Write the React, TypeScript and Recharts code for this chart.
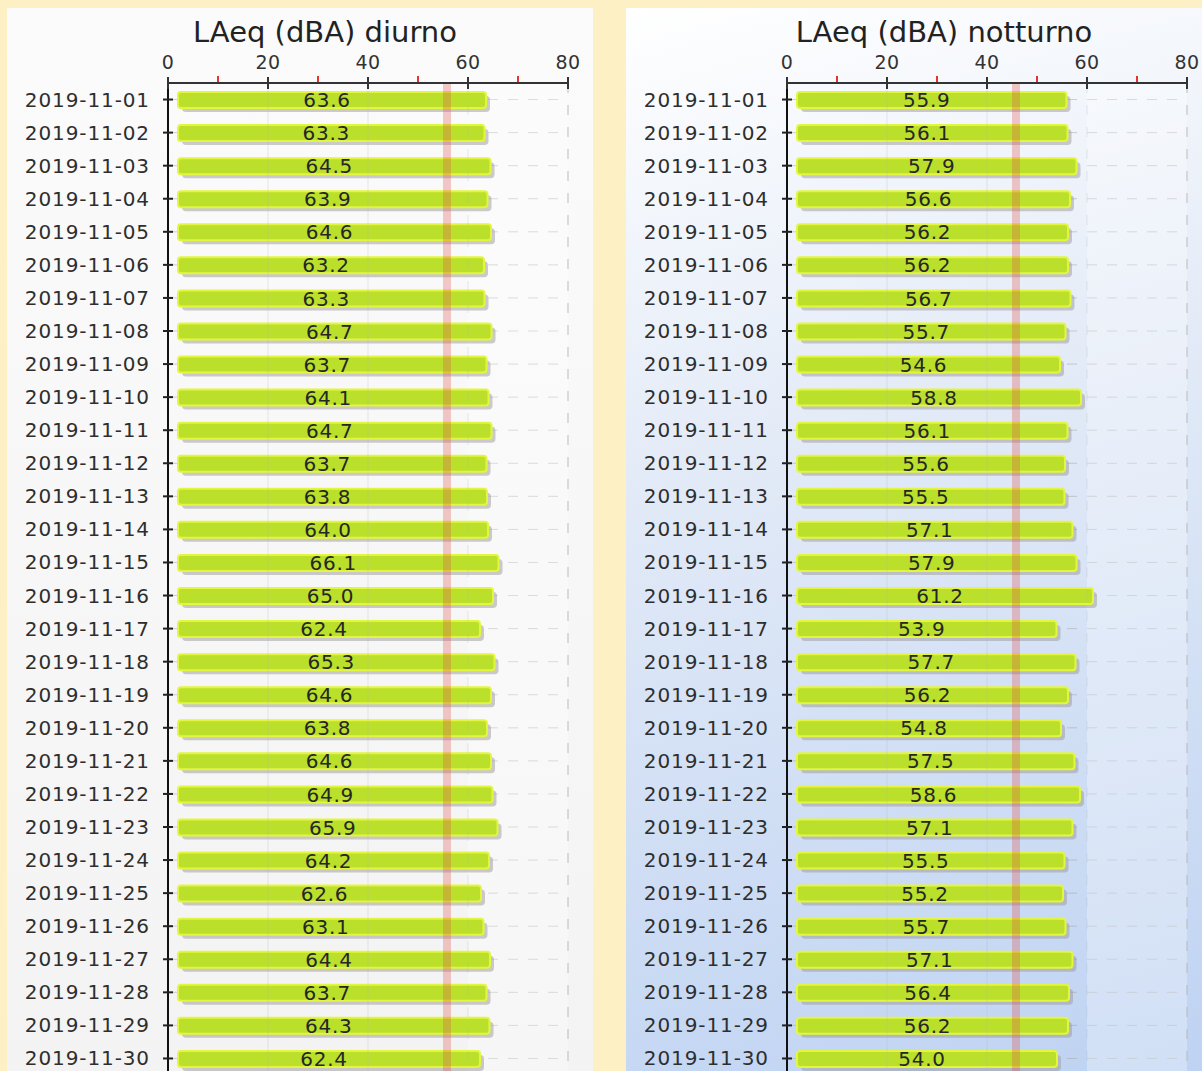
import { BarChart, Bar, XAxis, YAxis, CartesianGrid, ReferenceLine, ReferenceArea, LabelList } from 'recharts';

// ─── Data ─────────────────────────────────────────────────────────────────────

const dates = [
  '2019-11-01', '2019-11-02', '2019-11-03', '2019-11-04', '2019-11-05', '2019-11-06',
  '2019-11-07', '2019-11-08', '2019-11-09', '2019-11-10', '2019-11-11', '2019-11-12',
  '2019-11-13', '2019-11-14', '2019-11-15', '2019-11-16', '2019-11-17', '2019-11-18',
  '2019-11-19', '2019-11-20', '2019-11-21', '2019-11-22', '2019-11-23', '2019-11-24',
  '2019-11-25', '2019-11-26', '2019-11-27', '2019-11-28', '2019-11-29', '2019-11-30',
];

const diurno = [
  63.6, 63.3, 64.5, 63.9, 64.6, 63.2, 63.3, 64.7, 63.7, 64.1, 64.7, 63.7, 63.8, 64.0, 66.1,
  65.0, 62.4, 65.3, 64.6, 63.8, 64.6, 64.9, 65.9, 64.2, 62.6, 63.1, 64.4, 63.7, 64.3, 62.4,
];

const notturno = [
  55.9, 56.1, 57.9, 56.6, 56.2, 56.2, 56.7, 55.7, 54.6, 58.8, 56.1, 55.6, 55.5, 57.1, 57.9,
  61.2, 53.9, 57.7, 56.2, 54.8, 57.5, 58.6, 57.1, 55.5, 55.2, 55.7, 57.1, 56.4, 56.2, 54.0,
];

const xTicks = [0, 10, 20, 30, 40, 50, 60, 70, 80];
const majorTicks = [20, 40, 60, 80];
const limitDiurno = 55;
const limitNotturno = 45;

// ─── Styling ──────────────────────────────────────────────────────────────────

const FONT = '"DejaVu Sans", Verdana, sans-serif';
const PANEL_W = 586;
const CHART_H = 1067;

function XTick({ x, y, payload }: any) {
  const v = payload.value as number;
  if (v % 20 !== 0) {
    return <line x1={x} y1={y - 7} x2={x} y2={y - 1} stroke="#e8322c" strokeWidth={2} />;
  }
  return (
    <g>
      <line x1={x} y1={y - 6} x2={x} y2={y + 6} stroke="#333" strokeWidth={2} />
      <text x={x} y={y - 14} textAnchor="middle" fontSize={19} fontFamily={FONT} fill="#333" letterSpacing={0.5}>
        {v}
      </text>
    </g>
  );
}

function YTick({ x, y, payload }: any) {
  return (
    <g>
      <line x1={x - 5} y1={y} x2={x + 5} y2={y} stroke="#222" strokeWidth={2} />
      <text x={x - 18} y={y + 7} textAnchor="end" fontSize={20} fontFamily={FONT} fill="#2e2e2e" letterSpacing={0.9}>
        {payload.value}
      </text>
    </g>
  );
}

function BarShape({ x, y, width, height }: any) {
  if (!width || width < 12) return null;
  return (
    <g>
      <rect x={x + 14} y={y + 4} width={width - 10} height={height} rx={4} fill="#9a9a9a" opacity={0.5} />
      <rect x={x + 10} y={y} width={width - 10} height={height} rx={3} fill="#bbe02b" stroke="#e3f53e" strokeWidth={2} />
    </g>
  );
}

function LimitShape({ x1, y1, y2 }: any) {
  return (
    <rect x={x1} y={Math.min(y1, y2)} width={8} height={Math.abs(y2 - y1)} fill="#e0504a" opacity={0.3} />
  );
}

// ─── Panel ────────────────────────────────────────────────────────────────────

interface PanelProps {
  title: string;
  values: number[];
  limit: number;
  background: string;
}

function Panel({ title, values, limit, background }: PanelProps) {
  const data = dates.map((d, i) => ({ date: d, value: values[i] }));
  return (
    <div style={{ position: 'relative', width: PANEL_W, height: CHART_H + 10, background, flexShrink: 0 }}>
      <div
        style={{
          position: 'absolute',
          left: 0,
          width: 636,
          top: 5,
          textAlign: 'center',
          fontFamily: FONT,
          fontSize: 29,
          color: '#222',
          lineHeight: '38px',
        }}
      >
        {title}
      </div>
      <div style={{ position: 'absolute', left: 0, top: 0 }}>
        <BarChart
          width={PANEL_W}
          height={CHART_H}
          data={data}
          layout="vertical"
          margin={{ top: 0, right: 25, left: 0, bottom: 0 }}
          barSize={16}
        >
          <ReferenceArea x1={60} x2={80} fill="#ffffff" fillOpacity={0.3} stroke="none" />
          <CartesianGrid vertical={false} stroke="#a8a8a8" strokeOpacity={0.55} strokeDasharray="10 10" />
          {majorTicks.map((t) => (
            <ReferenceLine
              key={t}
              x={t}
              stroke="#b5b5b5"
              strokeOpacity={t === 80 ? 0.9 : 0.3}
              strokeDasharray={t >= 60 ? '10 12' : undefined}
            />
          ))}
          <XAxis
            type="number"
            orientation="top"
            domain={[0, 80]}
            ticks={xTicks}
            interval={0}
            height={75}
            tickSize={0}
            tickMargin={0}
            tickLine={false}
            axisLine={{ stroke: '#333', strokeWidth: 2 }}
            tick={<XTick />}
          />
          <YAxis
            type="category"
            dataKey="date"
            width={161}
            interval={0}
            tickSize={0}
            tickMargin={0}
            tickLine={false}
            axisLine={{ stroke: '#111', strokeWidth: 2 }}
            tick={<YTick />}
          />
          <Bar dataKey="value" shape={<BarShape />} isAnimationActive={false}>
            <LabelList
              dataKey="value"
              position="center"
              formatter={(v: any) => Number(v).toFixed(1)}
              fill="#262626"
              fontSize={20}
              fontFamily={FONT}
              letterSpacing={0.8}
            />
          </Bar>
          <ReferenceLine x={limit} shape={<LimitShape />} />
        </BarChart>
      </div>
    </div>
  );
}

export default function App() {
  return (
    <div style={{ display: 'flex', gap: 33, paddingTop: 8, paddingLeft: 7, width: 1260, background: '#fcf0c4', minHeight: 1090 }}>
      <style>{`body { margin: 0; background: #fcf0c4; overflow: hidden; }`}</style>
      <Panel
        title="LAeq (dBA) diurno"
        values={diurno}
        limit={limitDiurno}
        background="linear-gradient(to bottom, #fbfbfb 0%, #f3f3f3 100%)"
      />
      <Panel
        title="LAeq (dBA) notturno"
        values={notturno}
        limit={limitNotturno}
        background="linear-gradient(165deg, #ffffff 0%, #e2eaf7 40%, #bdd2f2 100%)"
      />
    </div>
  );
}
